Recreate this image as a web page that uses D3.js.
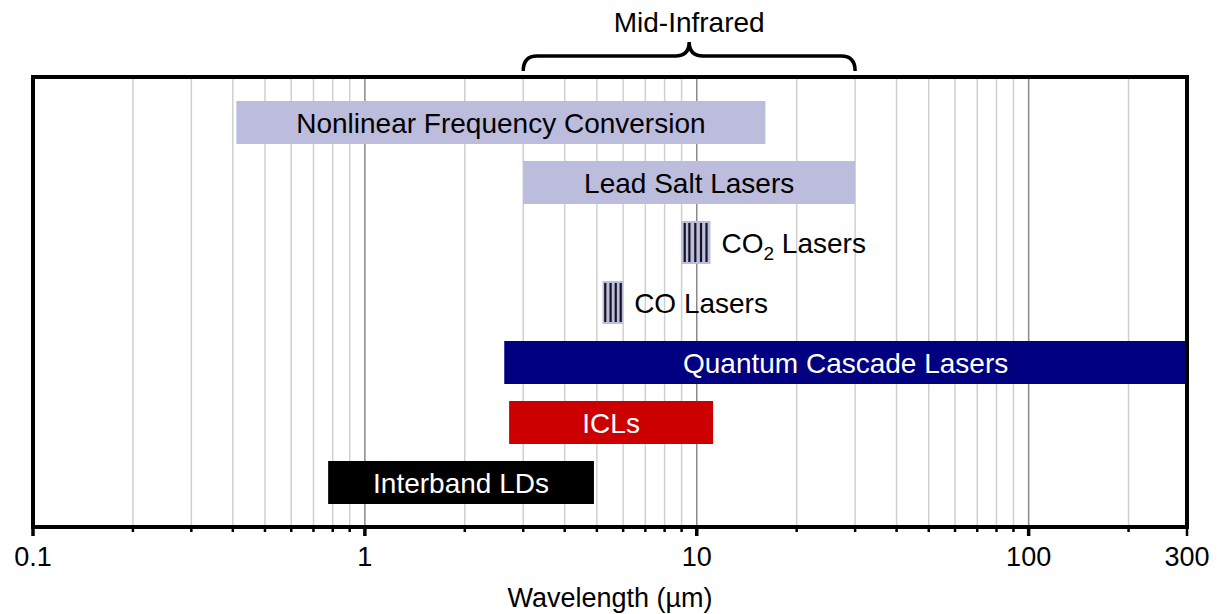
<!DOCTYPE html>
<html>
<head>
<meta charset="utf-8">
<script src="https://cdn.jsdelivr.net/npm/d3@7"></script>
<style>
  body { margin: 0; background: #fff; }
  text { font-family: "Liberation Sans", Arial, Helvetica, sans-serif; }
</style>
</head>
<body>
<script>
// laser families and their wavelength ranges (µm)
var names  = ["Nonlinear Frequency Conversion", "Lead Salt Lasers", "CO2 Lasers", "CO Lasers",
              "Quantum Cascade Lasers", "ICLs", "Interband LDs"];
var starts = [0.41, 3.0, 9.0, 5.2, 2.63, 2.72, 0.775];
var ends   = [16.1, 30, 11.0, 6.0, 300, 11.2, 4.9];
var colors = ["#bcbcdc", "#bcbcdc", "#bcbcdc", "#bcbcdc", "#000080", "#cc0000", "#000000"];
var labelColors = ["#000", "#000", "#000", "#000", "#fff", "#fff", "#fff"];
var outsideLabel = [false, false, true, true, false, false, false];

// emission lines drawn as stripes
var co2Lines = [9.2, 9.5, 9.9, 10.3, 10.7];
var coLines  = [5.3, 5.5, 5.7, 5.9];

var tickLabels = [0.1, 1, 10, 100, 300];
var midIR = [3, 30];

var width = 1221, height = 614;
var plotLeft = 33, plotRight = 1187, plotTop = 77, plotBottom = 527;

var svg = d3.select("body").append("svg")
    .attr("width", width)
    .attr("height", height);

var x = d3.scaleLog().domain([0.1, 300]).range([plotLeft, plotRight]);
var y = d3.scaleBand().domain(names)
    .range([101, 101 + 6 * 60 + 43])
    .paddingInner(17 / 60).paddingOuter(0);

// grid lines
var gridTicks = x.ticks().filter(function(d) { return d > 0.1 && d < 300; });
var isMajor = function(d) { return Math.abs(Math.log10(d) - Math.round(Math.log10(d))) < 1e-6; };

svg.selectAll("line.grid")
    .data(gridTicks)
    .enter().append("line")
    .attr("class", "grid")
    .attr("x1", function(d) { return x(d); })
    .attr("x2", function(d) { return x(d); })
    .attr("y1", plotTop)
    .attr("y2", plotBottom)
    .attr("stroke", function(d) { return isMajor(d) ? "#8a8a8a" : "#cfcfcf"; })
    .attr("stroke-width", 1.5);

// bars
svg.selectAll("rect.bar")
    .data(names)
    .enter().append("rect")
    .attr("class", "bar")
    .attr("x", function(d, i) { return x(starts[i]); })
    .attr("width", function(d, i) { return x(ends[i]) - x(starts[i]); })
    .attr("y", function(d) { return y(d); })
    .attr("height", y.bandwidth())
    .attr("fill", function(d, i) { return colors[i]; });

// stripes for CO2 and CO lines
function stripes(lines, name) {
  svg.selectAll("line.s" + name.length)
      .data(lines)
      .enter().append("line")
      .attr("x1", function(d) { return x(d); })
      .attr("x2", function(d) { return x(d); })
      .attr("y1", y(name) + 2)
      .attr("y2", y(name) + y.bandwidth() - 2)
      .attr("stroke", "#141420")
      .attr("stroke-width", 2.2);
}
stripes(co2Lines, "CO2 Lasers");
stripes(coLines, "CO Lasers");

// bar labels
names.forEach(function(d, i) {
  var t = svg.append("text")
      .attr("y", y(d) + y.bandwidth() / 2 + 10)
      .attr("font-size", 28)
      .attr("fill", labelColors[i]);
  if (outsideLabel[i]) {
    t.attr("x", x(ends[i]) + 11).attr("text-anchor", "start");
  } else {
    t.attr("x", (x(starts[i]) + x(ends[i])) / 2).attr("text-anchor", "middle");
  }
  if (d === "CO2 Lasers") {
    t.append("tspan").text("CO");
    t.append("tspan").text("2").attr("font-size", 19).attr("dy", 7);
    t.append("tspan").text(" Lasers").attr("dy", -7);
  } else {
    t.text(d);
  }
});

// frame
svg.append("rect")
    .attr("x", plotLeft)
    .attr("y", plotTop)
    .attr("width", plotRight - plotLeft)
    .attr("height", plotBottom - plotTop)
    .attr("fill", "none")
    .attr("stroke", "#000")
    .attr("stroke-width", 4);

// axis ticks
svg.selectAll("line.tick")
    .data(x.ticks())
    .enter().append("line")
    .attr("x1", function(d) { return x(d); })
    .attr("x2", function(d) { return x(d); })
    .attr("y1", plotBottom)
    .attr("y2", function(d) { return isMajor(d) || d === 300 ? plotBottom + 9 : plotBottom + 5; })
    .attr("stroke", "#000")
    .attr("stroke-width", function(d) { return isMajor(d) ? 3.5 : 2.5; });

svg.selectAll("text.tl")
    .data(tickLabels)
    .enter().append("text")
    .attr("x", function(d) { return x(d); })
    .attr("y", 566)
    .attr("text-anchor", "middle")
    .attr("font-size", 27)
    .text(function(d) { return d; });

svg.append("text")
    .attr("x", (plotLeft + plotRight) / 2)
    .attr("y", 607)
    .attr("text-anchor", "middle")
    .attr("font-size", 27)
    .text("Wavelength (µm)");

// Mid-Infrared brace
var b0 = x(midIR[0]), b1 = x(midIR[1]), bm = (b0 + b1) / 2, r = 14;
var brace = d3.path();
brace.moveTo(b0, 71);
brace.quadraticCurveTo(b0, 56, b0 + r, 56);
brace.lineTo(bm - r, 56);
brace.quadraticCurveTo(bm, 56, bm, 42);
brace.quadraticCurveTo(bm, 56, bm + r, 56);
brace.lineTo(b1 - r, 56);
brace.quadraticCurveTo(b1, 56, b1, 71);
svg.append("path")
    .attr("d", brace.toString())
    .attr("fill", "none")
    .attr("stroke", "#000")
    .attr("stroke-width", 3.5);

svg.append("text")
    .attr("x", bm)
    .attr("y", 32)
    .attr("text-anchor", "middle")
    .attr("font-size", 28)
    .text("Mid-Infrared");
</script>
</body>
</html>
